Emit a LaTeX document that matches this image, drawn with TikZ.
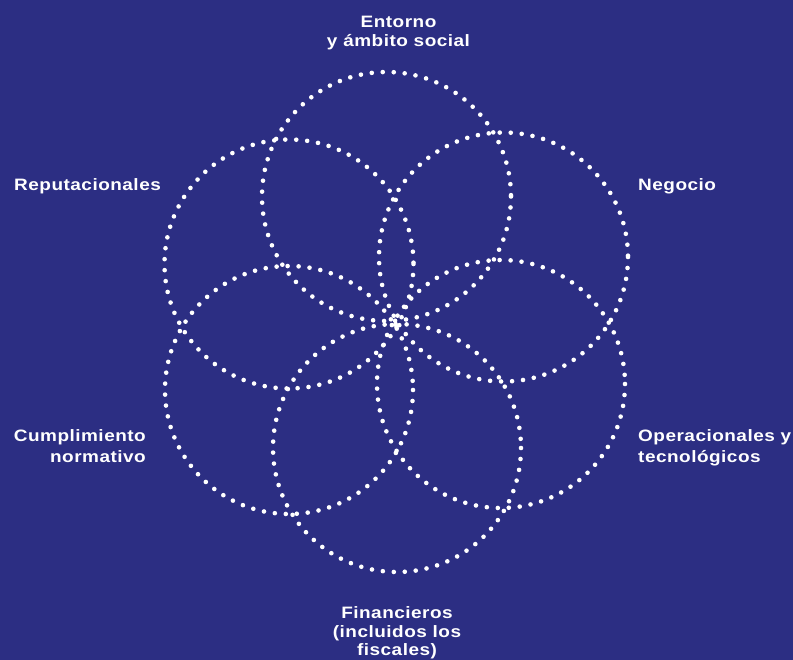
\documentclass[tikz,border=0pt]{standalone}
\usepackage{fontspec}
\setmainfont{Liberation Sans}[BoldFeatures={FakeStretch=1.15,LetterSpace=3}]
\definecolor{bgblue}{RGB}{44,46,131}
\begin{document}
\begin{tikzpicture}[x=1pt,y=-1pt,
  dotring/.style={draw=white,line width=4.6pt,line cap=round,dash pattern=on 0pt off 11pt},
  lbl/.style={text=white,inner sep=0pt,anchor=base,font=\fontsize{16.5}{19}\selectfont\bfseries}]
\fill[bgblue] (0,0) rectangle (793,660);
\useasboundingbox (0,0) rectangle (793,660);
% circles
\coordinate (ct) at (386.5,196.5);
\coordinate (cul) at (289,264);
\coordinate (cur) at (503.5,257);
\coordinate (clr) at (501,384);
\coordinate (cb) at (397,448);
\coordinate (cll) at (289,390);
\draw[dotring] (ct) circle[radius=124.5];
\draw[dotring] (cul) circle[radius=124.5];
\draw[dotring] (cur) circle[radius=124.5];
\draw[dotring] (clr) circle[radius=124];
\draw[dotring] (cb) circle[radius=124];
\draw[dotring] (cll) circle[radius=124];
% labels
\node[lbl] (e1) at (398.5,27.5) {Entorno};
\node[lbl] (e2) at (398.5,46.5) {y ámbito social};
\node[lbl,anchor=base west] (r1) at (14,191) {Reputacionales};
\node[lbl,anchor=base west] (n1) at (638,191) {Negocio};
\node[lbl,anchor=base east] (c1) at (146,442) {Cumplimiento};
\node[lbl,anchor=base east] (c2) at (146,462) {normativo};
\node[lbl,anchor=base west] (o1) at (638,442) {Operacionales y};
\node[lbl,anchor=base west] (o2) at (638,462) {tecnológicos};
\node[lbl] (f1) at (397,618) {Financieros};
\node[lbl] (f2) at (397,637) {(incluidos los};
\node[lbl] (f3) at (397,655) {fiscales)};
\end{tikzpicture}
\end{document}
